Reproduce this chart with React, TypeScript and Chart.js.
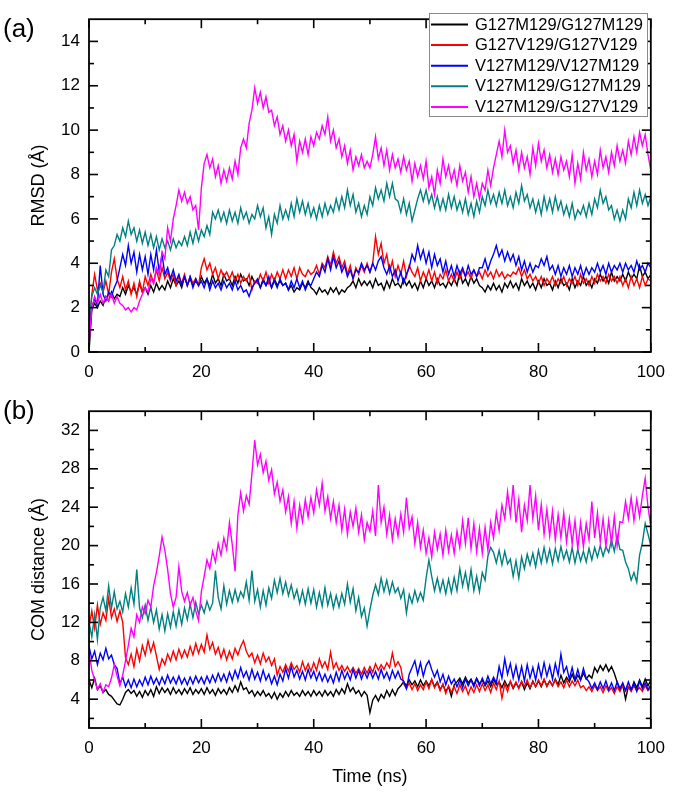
import React, { useEffect, useRef } from "react";
import { Chart, registerables } from "chart.js";

Chart.register(...registerables);

// ---------------- data ----------------
const SERIES_LABELS = [
  "G127M129/G127M129",
  "G127V129/G127V129",
  "V127M129/V127M129",
  "V127M129/G127M129",
  "V127M129/G127V129",
];
const SERIES_COLORS = ["#000000", "#FF0000", "#0000FF", "#008080", "#FF00FF"];

// sampling grid: 0 .. 100 ns every 0.5 ns
const TIME_NS = Array.from({ length: 201 }, (_, i) => i * 0.5);

const X_TICKS = [0, 20, 40, 60, 80, 100];
const X_MINOR = [10, 30, 50, 70, 90];
const RMSD_TICKS = [0, 2, 4, 6, 8, 10, 12, 14];
const RMSD_MINOR = [1, 3, 5, 7, 9, 11, 13];
const COM_TICKS = [4, 8, 12, 16, 20, 24, 28, 32];
const COM_MINOR = [2, 6, 10, 14, 18, 22, 26, 30];

// (a) RMSD (Å)
const RMSD_BLACK = [
  0.0,1.9,2.2,2.0,2.3,2.1,2.5,2.3,2.7,2.4,2.6,2.5,2.9,2.6,3.0,2.7,2.9,2.6,3.1,2.7,
  2.9,2.6,3.0,2.7,3.1,2.8,3.0,2.8,3.2,2.9,3.3,3.0,3.2,2.9,3.4,3.0,3.3,3.0,3.2,3.0,
  3.4,3.1,3.3,3.0,3.5,3.1,3.3,3.0,3.5,3.2,
  3.3,3.0,3.4,3.1,3.5,3.2,3.3,3.0,3.4,3.1,
  3.2,2.9,3.3,3.0,3.2,2.9,3.3,3.0,3.2,3.0,
  3.1,2.8,3.0,2.7,2.9,2.8,3.1,2.9,3.2,2.9,
  2.8,2.6,2.9,2.7,2.8,2.6,2.9,2.7,2.9,2.6,
  2.8,2.7,2.9,3.0,3.2,2.9,3.3,3.0,3.2,3.0,
  3.2,2.9,3.3,3.0,3.1,2.8,3.2,2.9,3.3,3.0,
  3.1,2.9,3.3,3.0,3.2,2.9,3.1,2.8,3.2,2.9,
  3.3,3.0,3.2,2.9,3.3,3.0,3.1,2.9,3.2,3.0,
  3.3,3.0,3.6,3.1,3.3,3.0,3.4,3.1,3.3,3.0,
  2.9,2.7,3.0,2.8,3.1,2.8,3.0,2.7,3.1,2.9,
  3.2,2.9,3.1,2.8,3.3,3.0,3.2,2.9,3.1,2.8,
  3.2,2.9,3.3,3.0,3.1,2.8,3.2,2.9,3.3,3.0,
  3.1,2.8,3.3,2.9,3.2,3.0,3.4,3.0,3.2,2.9,
  3.3,3.1,3.5,3.2,3.4,3.1,3.6,3.2,3.4,3.2,
  3.5,3.2,3.6,3.3,3.5,3.3,3.9,3.4,3.6,3.3,
  3.5,
];
const RMSD_RED = [
  1.0,2.6,3.5,2.8,3.1,2.7,3.2,2.6,3.6,4.2,3.3,2.9,3.4,2.8,3.2,2.6,3.1,2.5,3.2,2.7,
  3.4,3.0,3.5,3.1,3.7,3.2,3.8,3.3,3.6,3.2,3.5,3.0,3.4,3.1,3.5,3.0,3.4,3.1,3.3,3.0,
  3.8,4.2,3.7,4.0,3.5,3.8,3.3,3.7,3.4,3.6,
  3.3,3.6,3.2,3.5,3.1,3.4,3.2,3.5,2.8,3.2,
  3.1,3.5,3.2,3.6,3.1,3.5,3.2,3.6,3.3,3.7,
  3.3,3.7,3.4,3.8,3.3,3.8,3.5,3.4,3.7,3.5,
  3.6,3.9,3.5,4.0,3.8,4.3,3.9,4.5,4.0,4.3,
  3.8,4.1,3.5,3.9,3.3,3.8,3.5,3.9,3.6,4.0,
  3.6,4.0,5.2,4.4,4.9,4.0,4.4,3.6,4.1,3.4,
  3.9,3.5,4.1,3.4,3.9,3.6,3.4,3.8,3.2,3.6,
  3.3,3.7,3.2,3.6,3.1,3.5,3.3,3.7,3.2,3.5,
  3.2,3.6,3.3,3.7,3.4,3.6,3.3,3.7,3.4,3.6,
  3.3,3.7,3.4,3.6,3.3,3.7,3.4,3.6,3.3,3.5,
  3.4,3.6,3.5,3.8,3.4,3.7,3.3,3.5,3.2,3.4,
  3.1,3.4,3.0,3.3,3.1,3.4,3.0,3.3,3.1,3.4,
  3.0,3.3,3.1,3.4,3.0,3.5,3.1,3.3,3.0,3.4,
  3.1,3.5,3.2,3.4,3.1,3.5,3.2,3.4,3.1,3.4,
  3.0,3.3,2.9,3.4,3.0,3.3,2.9,3.4,3.0,3.3,
  3.2,
];
const RMSD_BLUE = [
  0.8,2.0,2.4,2.1,3.9,2.6,2.3,2.7,2.5,2.9,3.2,3.8,4.4,3.9,4.8,4.0,4.5,3.6,4.4,3.7,
  4.3,3.5,4.4,3.7,4.6,3.6,4.4,3.5,3.8,3.3,3.7,3.2,3.5,3.0,3.4,3.0,3.4,2.9,3.3,3.0,
  3.2,2.9,3.3,2.8,3.2,2.9,3.1,2.8,3.2,2.9,
  3.1,2.8,3.2,2.8,3.0,2.7,2.8,2.5,2.9,3.1,
  3.3,2.9,3.2,3.0,3.4,2.9,3.2,2.9,3.3,3.0,
  3.1,2.8,3.2,2.9,3.3,2.9,3.2,2.8,3.1,3.0,
  3.3,3.6,3.4,3.9,3.6,4.2,3.7,4.3,3.8,4.1,
  3.6,3.9,3.4,3.7,3.3,3.7,3.6,4.0,3.7,3.9,
  3.6,4.0,3.7,4.1,4.3,3.8,3.5,3.9,3.4,3.7,
  3.2,3.6,3.1,3.5,3.8,4.4,4.1,4.8,4.2,4.6,
  4.0,4.5,3.8,4.4,3.9,4.2,3.6,4.1,3.5,3.9,
  3.4,3.9,3.5,3.8,3.4,3.9,3.5,3.7,3.4,3.8,
  3.8,4.2,3.7,4.1,4.4,4.8,4.3,4.6,4.1,4.5,
  4.1,4.4,3.9,4.3,3.7,4.1,3.6,4.0,3.6,3.9,
  3.8,4.2,3.9,4.3,3.7,3.9,3.5,3.9,3.4,3.8,
  3.5,3.9,3.4,3.8,3.5,3.9,3.4,3.8,3.5,3.8,
  3.6,4.0,3.6,3.9,3.5,4.0,3.6,3.9,3.7,4.0,
  3.6,4.0,3.7,3.9,3.6,4.1,3.7,3.9,3.6,4.0,
  3.8,
];
const RMSD_TEAL = [
  1.5,2.5,2.9,2.6,3.0,2.7,3.7,3.4,4.6,4.8,5.3,5.0,5.6,5.2,5.9,5.3,5.6,5.0,5.5,4.9,
  5.4,4.8,5.3,4.7,5.2,4.6,5.1,4.7,5.0,4.6,5.1,4.7,5.0,4.8,5.2,4.8,5.4,4.9,5.5,5.0,
  5.5,5.2,5.7,5.3,6.3,6.0,6.4,5.9,6.3,5.8,
  6.4,5.9,6.3,5.8,6.5,6.0,6.3,5.8,6.2,6.0,
  6.6,6.1,6.5,5.6,6.1,5.3,6.2,5.8,6.6,6.0,
  6.4,6.0,6.7,6.1,6.9,6.3,6.8,6.2,6.7,6.1,
  6.5,6.0,6.6,6.1,6.7,6.2,6.6,6.3,6.9,6.4,
  7.0,6.5,7.3,6.6,7.1,6.3,6.7,6.1,6.6,6.2,
  7.0,6.6,7.4,6.9,7.3,6.8,7.6,7.0,7.6,6.9,
  6.8,6.3,6.9,6.2,6.7,5.9,6.4,6.9,7.3,6.8,
  7.3,6.7,7.1,6.5,7.0,6.4,6.9,6.4,7.1,6.5,
  7.0,6.4,6.8,6.3,6.9,6.2,6.7,6.1,6.8,6.3,
  7.0,6.6,7.3,6.7,7.1,6.6,7.2,6.7,7.3,6.6,
  7.0,6.5,7.2,6.7,7.5,6.8,7.1,6.5,6.9,6.3,
  6.8,6.2,7.0,6.4,6.9,6.3,7.0,6.4,6.8,6.2,
  6.6,6.1,6.7,6.0,6.4,6.2,6.6,6.1,6.7,6.2,
  6.9,6.5,7.3,6.7,7.0,6.4,6.6,6.0,6.4,5.9,
  6.4,6.0,6.9,6.5,7.2,6.6,7.3,6.7,7.1,6.6,
  7.0,
];
const RMSD_MAGENTA = [
  0.3,2.0,2.5,2.2,2.6,2.2,2.5,2.3,2.6,2.2,2.5,2.2,2.1,1.9,2.0,1.8,2.0,1.9,2.3,2.6,
  2.9,2.7,3.3,3.1,3.8,3.5,4.5,4.2,5.6,5.0,6.0,6.6,7.3,6.8,7.2,6.7,7.0,6.4,6.6,5.5,
  7.4,8.5,8.9,8.3,8.7,7.9,8.4,7.6,8.2,7.7,
  8.3,7.8,8.6,8.0,9.2,9.6,9.2,10.3,10.9,11.9,
  11.2,11.7,11.0,11.5,10.8,10.9,10.2,10.6,9.8,10.2,
  9.5,10.0,9.3,9.8,8.6,9.5,9.0,9.6,8.9,9.7,
  9.3,9.9,9.6,10.2,9.8,10.6,9.5,10.0,9.2,9.6,
  8.8,9.3,8.5,9.1,8.2,8.8,8.4,8.9,8.3,8.6,
  8.3,8.9,9.7,8.7,9.2,8.4,9.1,8.2,8.9,8.3,
  8.7,8.1,8.8,8.2,8.6,7.7,8.5,7.9,8.4,7.8,
  8.6,7.4,7.9,7.1,8.2,7.6,8.7,7.9,8.4,7.7,
  8.2,7.5,8.4,7.7,8.1,7.2,7.9,7.0,7.6,6.9,
  7.6,7.3,8.2,7.5,8.3,8.9,9.5,8.8,10.0,9.0,
  9.3,8.5,9.1,8.2,9.0,8.3,8.8,8.0,9.2,8.4,
  9.4,8.6,9.1,8.3,8.9,8.1,8.7,8.0,8.8,8.2,
  8.6,7.9,8.9,7.6,8.5,7.8,9.0,8.2,8.7,7.9,
  8.6,8.0,9.1,8.3,8.8,8.1,9.0,8.4,9.3,8.6,
  9.1,8.5,9.5,8.9,9.7,9.0,9.9,9.3,9.8,8.9,
  8.2,
];

// (b) COM distance (Å)
const COM_BLACK = [
  6.0,5.2,6.2,5.0,5.4,4.7,5.0,4.5,4.3,3.9,3.5,3.4,4.0,4.7,5.0,4.6,4.9,4.3,4.8,4.2,
  4.9,4.4,5.0,4.3,5.3,4.6,5.2,4.7,5.1,4.5,5.2,4.6,5.0,4.5,5.1,4.6,5.2,4.5,5.0,4.6,
  5.1,4.5,5.2,4.6,5.0,4.4,5.1,4.6,5.0,4.5,
  5.2,4.7,5.4,4.8,5.8,5.0,5.2,4.6,4.9,4.3,
  4.8,4.4,4.9,4.3,4.6,4.1,4.7,4.0,4.6,4.2,
  4.8,4.3,4.9,4.4,4.7,4.3,4.9,4.4,4.8,4.3,
  4.9,4.4,4.8,4.3,4.9,4.4,4.8,4.3,5.0,4.5,
  5.1,4.6,5.6,4.8,5.2,4.6,4.9,4.3,4.8,4.4,
  2.6,3.9,4.4,3.8,4.5,4.1,4.9,4.3,5.0,4.4,
  5.1,5.4,5.8,5.4,6.0,5.5,5.9,5.3,6.0,5.4,
  5.9,5.4,6.0,5.3,5.8,5.0,5.5,4.8,5.3,4.3,
  5.5,5.8,6.2,5.6,6.3,5.7,6.1,5.5,6.2,5.6,
  6.0,5.4,5.9,5.3,6.1,5.5,5.8,5.2,5.9,5.3,
  5.8,5.1,5.7,5.2,5.8,5.0,5.7,5.1,5.9,5.3,
  5.9,5.3,6.0,5.4,5.9,5.4,6.1,5.5,6.5,5.7,
  6.3,5.8,6.6,5.9,6.5,6.0,6.7,6.1,6.5,6.2,
  7.3,6.8,7.5,7.0,7.6,6.9,7.4,6.7,5.8,5.0,
  5.5,4.0,5.3,4.9,5.8,5.2,6.0,5.3,6.1,5.4,
  6.0,
];
const COM_RED = [
  11.5,13.2,11.4,13.8,11.8,13.0,12.2,14.5,12.5,13.4,12.1,13.2,12.0,8.3,7.6,8.7,7.4,9.2,8.0,9.6,
  8.6,10.1,8.9,9.9,8.5,7.1,8.2,7.6,8.7,8.0,9.0,8.1,9.2,8.3,9.1,8.4,9.5,8.6,9.8,8.8,
  9.7,8.9,10.7,9.2,9.9,8.7,9.4,8.3,9.2,8.1,
  9.0,8.2,9.3,8.6,9.5,10.1,9.0,8.4,8.8,7.8,
  8.6,7.7,8.8,7.9,8.4,7.5,8.2,6.5,7.4,6.8,
  7.6,6.9,7.8,7.1,7.5,6.8,7.9,7.0,7.7,6.9,
  7.8,7.0,8.2,7.3,7.9,7.1,8.9,7.2,7.8,7.0,
  7.5,6.9,7.4,6.8,7.3,6.7,7.2,6.6,7.3,6.7,
  7.4,6.8,7.7,7.0,7.6,7.1,7.8,7.3,8.8,7.4,
  7.9,7.3,5.6,5.1,5.7,5.0,5.6,4.9,5.5,5.0,
  5.8,5.1,6.1,5.2,5.7,4.9,5.6,4.6,5.4,4.7,
  5.3,4.6,5.5,4.8,5.4,4.5,5.3,4.7,5.5,4.8,
  5.6,4.9,5.5,4.7,5.7,5.0,5.9,4.1,5.6,4.8,
  5.9,5.2,5.8,5.1,5.9,5.3,6.0,5.2,5.8,5.3,
  6.0,5.4,6.1,5.3,5.9,5.4,6.0,5.3,5.8,5.2,
  6.0,5.3,5.9,5.4,6.0,5.2,5.4,4.9,5.3,4.8,
  5.4,4.9,5.3,4.7,5.4,4.8,5.2,4.6,5.3,4.8,
  5.4,4.9,5.3,4.8,5.4,4.9,5.2,4.8,5.4,4.9,
  5.2,
];
const COM_BLUE = [
  9.5,8.2,9.0,7.6,8.8,8.1,9.3,8.2,8.6,7.6,7.2,5.6,6.3,5.3,6.0,5.2,6.1,5.3,6.0,5.4,
  6.3,5.5,6.4,5.6,6.2,5.5,6.3,5.6,6.5,5.7,6.3,5.6,6.4,5.6,6.2,5.5,6.3,5.6,6.4,5.7,
  6.3,5.6,6.4,5.7,6.5,5.8,6.7,5.9,6.6,5.8,
  6.8,6.0,7.0,6.2,7.3,6.3,6.9,6.0,7.1,6.1,
  6.8,5.9,7.0,6.0,6.6,5.6,6.4,5.5,6.6,5.9,
  7.2,6.2,7.4,6.3,7.0,6.1,6.9,6.0,7.1,6.2,
  6.9,6.0,6.8,5.9,6.6,5.8,6.5,5.7,6.8,5.9,
  7.0,6.1,6.8,6.0,7.1,6.2,7.0,6.1,6.9,6.2,
  7.0,6.2,6.9,6.1,7.1,6.2,6.8,6.0,7.0,6.2,
  6.9,6.1,5.9,5.1,6.6,7.3,8.0,6.6,7.8,6.4,
  7.5,8.0,7.1,6.3,7.0,5.8,6.6,5.5,6.4,5.6,
  6.1,5.3,6.0,5.2,6.1,5.4,6.0,5.3,6.1,5.4,
  6.2,5.5,6.4,5.6,6.3,5.7,7.4,6.2,8.2,6.6,
  7.7,6.2,7.5,6.0,7.4,5.9,7.6,6.2,7.3,6.0,
  7.6,6.3,7.8,6.4,7.5,6.1,7.7,6.5,8.7,6.8,
  7.4,6.1,7.3,6.0,7.1,6.0,7.2,6.2,5.8,5.1,
  5.7,5.0,5.8,5.1,5.9,5.0,5.7,4.9,5.8,5.1,
  5.7,4.9,5.8,5.0,5.6,4.8,5.9,5.1,5.7,5.0,
  5.5,
];
const COM_TEAL = [
  12.0,10.5,12.8,10.2,13.5,14.6,13.2,15.8,13.5,15.2,13.4,14.2,13.1,15.0,13.6,15.6,13.9,17.5,13.5,12.5,
  13.8,12.2,13.6,12.0,13.3,11.3,12.8,11.1,12.9,11.5,13.1,11.6,13.3,11.8,13.5,12.3,13.9,12.5,14.1,12.9,
  13.8,13.0,14.2,13.3,14.0,17.4,14.6,13.4,15.8,13.9,
  15.3,14.1,15.4,14.2,15.2,14.6,16.2,14.3,17.4,14.2,
  15.4,13.6,15.3,13.8,15.6,14.5,16.4,15.1,16.6,15.0,
  16.2,14.8,15.9,14.5,15.4,14.0,15.3,13.9,15.5,14.0,
  15.4,13.6,15.1,13.7,15.6,13.8,15.0,13.5,14.8,13.6,
  15.0,13.9,16.0,14.1,15.5,13.2,14.6,12.6,13.5,11.6,
  13.3,14.8,15.9,14.9,16.6,15.2,16.4,15.0,16.2,15.1,
  15.6,14.5,15.4,13.0,14.9,14.0,15.3,14.2,15.1,14.3,
  16.6,18.5,16.8,15.3,16.6,15.2,16.4,15.0,16.5,15.1,
  16.7,15.3,17.6,15.8,17.2,15.5,17.5,15.3,16.8,15.2,
  17.2,16.4,18.9,19.8,19.3,18.2,19.5,18.0,19.4,18.1,
  18.6,16.8,18.4,16.6,18.8,17.6,19.1,18.0,19.2,17.8,
  19.5,18.2,19.8,18.3,19.6,18.1,19.7,18.4,19.9,18.6,
  19.5,18.3,19.8,18.2,19.6,18.4,19.4,18.3,19.7,18.5,
  19.8,18.8,20.0,18.9,19.9,19.3,20.6,19.4,21.0,19.6,
  19.5,18.3,17.6,16.4,17.2,16.2,19.0,20.3,22.3,21.2,
  20.0,
];
const COM_MAGENTA = [
  9.0,7.0,6.0,5.0,5.6,4.7,5.5,5.3,6.2,7.6,6.4,5.4,6.5,8.0,9.6,11.4,10.5,12.8,12.0,13.6,
  12.9,14.3,13.6,15.8,17.2,18.9,20.9,19.5,17.5,15.0,13.6,14.6,17.8,15.2,14.2,15.1,13.8,14.6,13.2,12.2,
  15.2,16.8,18.5,17.6,19.4,18.3,20.2,19.0,20.8,19.6,
  22.4,20.1,17.3,23.2,25.5,23.6,25.2,24.3,27.5,31.0,
  28.4,29.5,27.6,28.8,26.8,27.9,25.4,26.6,24.6,25.8,
  23.5,25.1,22.3,24.6,21.8,24.2,22.5,24.8,23.0,25.0,
  23.4,25.8,24.2,26.5,23.6,25.1,22.8,24.6,22.4,24.2,
  21.6,23.8,21.2,23.5,22.0,23.9,21.4,23.2,20.6,22.4,
  21.5,23.6,21.0,26.3,22.4,24.0,21.2,23.2,20.6,22.8,
  21.0,23.3,21.4,25.0,21.8,23.0,20.2,22.4,19.8,21.6,
  19.2,20.8,18.8,21.4,19.6,21.2,19.0,21.6,19.4,21.1,
  19.2,21.5,19.8,22.6,20.2,22.9,19.7,22.3,19.4,21.8,
  19.2,21.9,19.5,22.4,20.8,23.4,21.6,24.2,22.8,25.6,
  23.2,26.3,22.4,24.8,21.4,24.2,22.6,26.3,22.8,25.2,
  21.6,24.3,21.2,23.8,21.0,23.6,20.6,23.2,20.8,23.4,
  20.4,22.8,20.2,22.6,19.7,22.4,19.9,22.3,20.6,24.6,
  20.8,23.4,20.4,22.8,19.9,22.6,20.2,23.0,20.0,22.5,
  22.4,24.6,22.8,25.0,22.6,24.8,23.0,25.2,27.0,24.0,
  22.0,
];

// ---------------- chart helpers ----------------
const FONT = '"Liberation Sans", Arial, Helvetica, sans-serif';

function buildDatasets(series: number[][]) {
  return series.map((vals, i) => ({
    label: SERIES_LABELS[i],
    data: vals.map((y, j) => ({ x: TIME_NS[j], y })),
    borderColor: SERIES_COLORS[i],
    backgroundColor: SERIES_COLORS[i],
    borderWidth: 1.4,
    pointRadius: 0,
    pointHoverRadius: 0,
    tension: 0,
    order: series.length - i, // later series drawn on top
  }));
}

function framePlugin(yMinor: number[], panelLabel: string, labelY: number) {
  return {
    id: "frameTicks",
    afterDatasetsDraw(chart: any) {
      const { ctx, chartArea } = chart;
      const { left, right, top, bottom } = chartArea;
      const xs = chart.scales.x;
      const ys = chart.scales.y;
      ctx.save();
      ctx.strokeStyle = "#000";
      ctx.lineWidth = 1.6;
      const seg = (x1: number, y1: number, x2: number, y2: number) => {
        ctx.beginPath();
        ctx.moveTo(x1, y1);
        ctx.lineTo(x2, y2);
        ctx.stroke();
      };
      const xt = (vals: number[], len: number) =>
        vals.forEach((v) => {
          const px = xs.getPixelForValue(v);
          seg(px, bottom, px, bottom - len);
          seg(px, top, px, top + len);
        });
      const yt = (vals: number[], len: number) =>
        vals.forEach((v) => {
          const py = ys.getPixelForValue(v);
          if (py < top - 0.5 || py > bottom + 0.5) return;
          seg(left, py, left + len, py);
          seg(right, py, right - len, py);
        });
      xt(X_TICKS, 9);
      xt(X_MINOR, 5);
      const majors = (ys.ticks || []).map((t: any) => t.value);
      yt(majors, 9);
      yt(yMinor, 5);
      ctx.lineWidth = 1.8;
      ctx.strokeRect(left, top, right - left, bottom - top);
      // panel label
      ctx.fillStyle = "#000";
      ctx.font = `26px ${FONT}`;
      ctx.textAlign = "left";
      ctx.textBaseline = "middle";
      ctx.fillText(panelLabel, 3, labelY);
      ctx.restore();
    },
  };
}

const legendPlugin = {
  id: "boxLegend",
  afterDatasetsDraw(chart: any) {
    const { ctx } = chart;
    const bx = 429.5, by = 13.5, bw = 218, bh = 103;
    ctx.save();
    ctx.fillStyle = "#fff";
    ctx.fillRect(bx, by, bw, bh);
    ctx.strokeStyle = "#8a8a8a";
    ctx.lineWidth = 1;
    ctx.strokeRect(bx, by, bw, bh);
    ctx.font = `16.5px ${FONT}`;
    ctx.textAlign = "left";
    ctx.textBaseline = "middle";
    SERIES_LABELS.forEach((lab, i) => {
      const y = 24.5 + i * 20.6;
      ctx.strokeStyle = SERIES_COLORS[i];
      ctx.lineWidth = 2;
      ctx.beginPath();
      ctx.moveTo(431, y);
      ctx.lineTo(468, y);
      ctx.stroke();
      ctx.fillStyle = "#000";
      ctx.fillText(lab, 475, y + 0.5);
    });
    ctx.restore();
  },
};

function makeConfig(p: {
  series: number[][];
  yMin: number;
  yMax: number;
  yTicks: number[];
  yMinor: number[];
  yTitle: string;
  xTitle: string | null;
  padTop: number;
  xAxisHeight: number;
  panelLabel: string;
  labelY: number;
  legend: boolean;
}) {
  const plugins: any[] = [framePlugin(p.yMinor, p.panelLabel, p.labelY)];
  if (p.legend) plugins.push(legendPlugin);
  return {
    type: "line" as const,
    data: { datasets: buildDatasets(p.series) },
    plugins,
    options: {
      responsive: false,
      animation: false as const,
      events: [],
      layout: { padding: { left: 0, right: 18, top: p.padTop, bottom: 0 } },
      plugins: {
        legend: { display: false },
        tooltip: { enabled: false },
        title: { display: false },
      },
      scales: {
        x: {
          type: "linear" as const,
          min: 0,
          max: 100,
          afterBuildTicks: (s: any) => {
            s.ticks = X_TICKS.map((v) => ({ value: v }));
          },
          afterFit: (s: any) => {
            s.height = p.xAxisHeight;
          },
          grid: { display: false, drawTicks: false },
          border: { display: false },
          ticks: {
            color: "#000",
            font: { size: 17, family: FONT },
            padding: 10,
            maxRotation: 0,
            autoSkip: false,
          },
          title: {
            display: !!p.xTitle,
            text: p.xTitle || "",
            color: "#000",
            font: { size: 18, family: FONT },
            padding: { top: 0, bottom: 5 },
          },
        },
        y: {
          type: "linear" as const,
          min: p.yMin,
          max: p.yMax,
          afterBuildTicks: (s: any) => {
            s.ticks = p.yTicks.map((v) => ({ value: v }));
          },
          afterFit: (s: any) => {
            s.width = 89;
          },
          grid: { display: false, drawTicks: false },
          border: { display: false },
          ticks: {
            color: "#000",
            font: { size: 17, family: FONT },
            padding: 9,
            autoSkip: false,
          },
          title: {
            display: true,
            text: p.yTitle,
            color: "#000",
            font: { size: 18, family: FONT },
            padding: { top: 28, bottom: 0 },
          },
        },
      },
    },
  };
}

export default function App() {
  const topRef = useRef<HTMLCanvasElement | null>(null);
  const botRef = useRef<HTMLCanvasElement | null>(null);

  useEffect(() => {
    if (!topRef.current || !botRef.current) return;
    Chart.defaults.font.family = FONT;
    const top = new Chart(
      topRef.current,
      makeConfig({
        series: [RMSD_BLACK, RMSD_RED, RMSD_BLUE, RMSD_TEAL, RMSD_MAGENTA],
        yMin: 0,
        yMax: 15,
        yTicks: RMSD_TICKS,
        yMinor: RMSD_MINOR,
        yTitle: "RMSD (Å)",
        xTitle: null,
        padTop: 4,
        xAxisHeight: 40,
        panelLabel: "(a)",
        labelY: 30,
        legend: true,
      }) as any
    );
    const bot = new Chart(
      botRef.current,
      makeConfig({
        series: [COM_BLACK, COM_RED, COM_BLUE, COM_TEAL, COM_MAGENTA],
        yMin: 1,
        yMax: 34,
        yTicks: COM_TICKS,
        yMinor: COM_MINOR,
        yTitle: "COM distance (Å)",
        xTitle: "Time (ns)",
        padTop: 5,
        xAxisHeight: 65,
        panelLabel: "(b)",
        labelY: 20,
        legend: false,
      }) as any
    );
    return () => {
      top.destroy();
      bot.destroy();
    };
  }, []);

  return (
    <div
      style={{
        position: "absolute",
        left: 0,
        top: 0,
        width: 675,
        height: 793,
        background: "#fff",
      }}
    >
      <canvas
        ref={topRef}
        width={675}
        height={392}
        style={{ position: "absolute", left: 0, top: 0, width: 675, height: 392 }}
      />
      <canvas
        ref={botRef}
        width={675}
        height={401}
        style={{ position: "absolute", left: 0, top: 392, width: 675, height: 401 }}
      />
    </div>
  );
}
